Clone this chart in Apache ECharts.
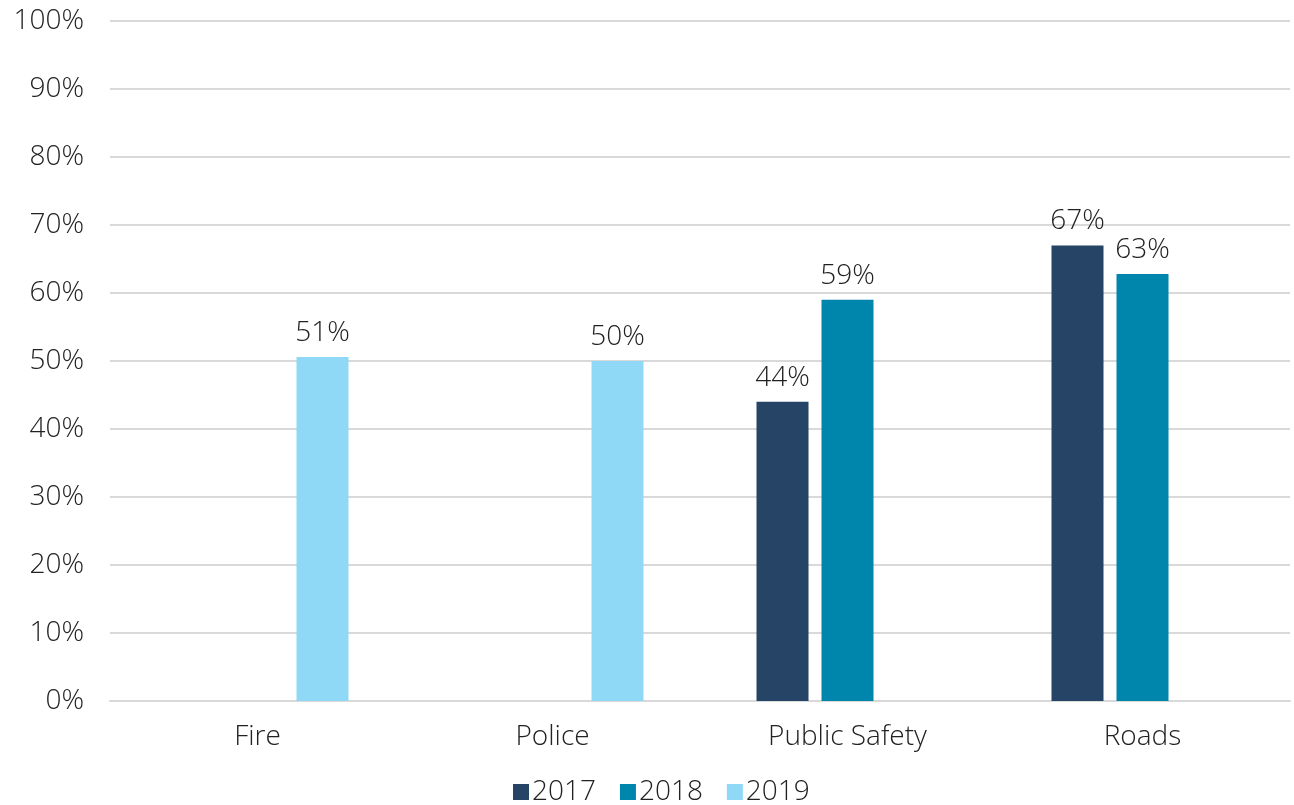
<!DOCTYPE html>
<html><head><meta charset="utf-8">
<script src="https://cdn.jsdelivr.net/npm/echarts@6/dist/echarts.min.js"></script>
<style>html,body{margin:0;padding:0;background:#fff}#c{width:1294px;height:805px}</style>
</head><body><div id="c"></div>
<script>
const categories = ["Fire", "Police", "Public Safety", "Roads"];
const seriesNames = ["2017", "2018", "2019"];
const values2017 = [null, null, 0.44, 0.67];
const values2018 = [null, null, 0.59, 0.628];
const values2019 = [0.506, 0.50, null, null];
const colors = ["#264466", "#0085ad", "#8fd9f7"];

const font = "'Open Sans', sans-serif";
const fw = 300;
const fs = 28;
const chart = echarts.init(document.getElementById('c'));
const data = [values2017, values2018, values2019];
chart.setOption({
  animation: false,
  textStyle: {fontFamily: font, fontWeight: fw},
  grid: {left: 110, right: 4, top: 21, bottom: 104},
  legend: {
    bottom: -6, left: 508, itemWidth: 16, itemHeight: 16, itemGap: 24,
    icon: 'rect',
    textStyle: {fontSize: fs, color: '#222', fontFamily: font, fontWeight: fw, padding: [0,0,0,-2]},
    data: seriesNames
  },
  xAxis: {
    type: 'category', data: categories,
    axisLine: {lineStyle: {color: '#d9d9d9', width: 2}},
    axisTick: {show: false},
    axisLabel: {fontSize: fs, color: '#222', margin: 22, fontFamily: font, fontWeight: fw}
  },
  yAxis: {
    type: 'value', min: 0, max: 1, interval: 0.1,
    axisLine: {show: false}, axisTick: {show: false},
    splitLine: {lineStyle: {color: '#d9d9d9', width: 2}},
    axisLabel: {fontSize: fs, color: '#222', margin: 26, fontFamily: font, fontWeight: fw,
      formatter: v => Math.round(v * 100) + '%'}
  },
  series: seriesNames.map((n, i) => ({
    name: n, type: 'bar', data: data[i],
    barWidth: 52, barGap: '25%',
    itemStyle: {color: colors[i]},
    label: {show: true, position: 'top', distance: 10, fontSize: fs, color: '#222', fontFamily: font, fontWeight: fw,
      formatter: p => Math.round(p.value * 100) + '%'}
  }))
});
</script></body></html>
